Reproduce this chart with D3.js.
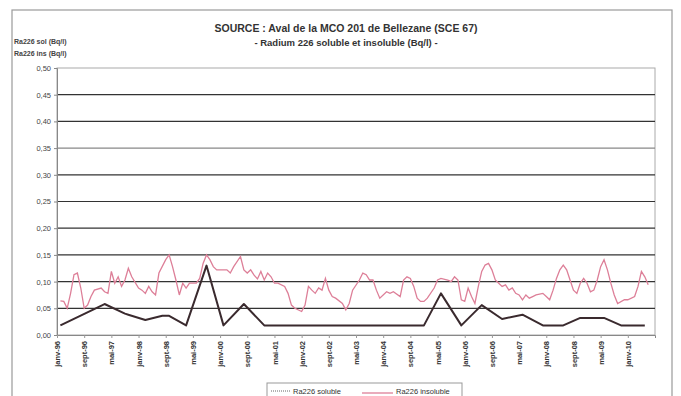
<!DOCTYPE html>
<html>
<head>
<meta charset="utf-8">
<script src="https://cdn.jsdelivr.net/npm/d3@7"></script>
<style>
  body { margin: 0; background: #fff; }
  svg { display: block; font-family: "Liberation Sans", Arial, sans-serif; }
</style>
</head>
<body>
<script>
"use strict";

// months counted from janv-96
const tickLabels = ["janv-96", "sept-96", "mai-97", "janv-98", "sept-98", "mai-99", "janv-00", "sept-00",
                    "mai-01", "janv-02", "sept-02", "mai-03", "janv-04", "sept-04", "mai-05", "janv-06",
                    "sept-06", "mai-07", "janv-08", "sept-08", "mai-09", "janv-10"];
const yTicks = [0, 0.05, 0.10, 0.15, 0.20, 0.25, 0.30, 0.35, 0.40, 0.45, 0.50];

const insolMonths = [1, 2, 3, 4, 5, 6, 7, 8, 9, 10, 11, 13, 14, 15, 16, 17, 18, 19, 20, 21, 22, 24, 25, 26, 27, 28,
                     29, 30, 32, 33, 34, 35, 36, 37, 38, 39, 41, 42, 43, 44, 45, 46, 47, 48, 50, 51, 52, 54, 55, 56,
                     57, 58, 59, 60, 61, 62, 63, 64, 65, 67, 68, 69, 70, 72, 73, 74, 75, 76, 77, 78, 79, 80, 81, 82,
                     84, 85, 86, 87, 89, 90, 91, 92, 93, 94, 95, 97, 98, 99, 101, 102, 103, 104, 105, 106, 107, 108,
                     109, 111, 112, 113, 115, 116, 117, 118, 119, 120, 121, 122, 123, 124, 125, 126, 127, 128, 129,
                     130, 131, 132, 133, 134, 135, 136, 137, 138, 139, 140, 141, 143, 144, 145, 146, 147, 148, 149,
                     150, 151, 152, 153, 154, 155, 156, 157, 158, 159, 160, 161, 162, 163, 164, 165, 167, 168, 170,
                     171, 172, 173, 174];
const insolValues = [0.064, 0.063, 0.050, 0.078, 0.113, 0.116, 0.088, 0.050, 0.056, 0.072, 0.084, 0.088, 0.081, 0.078,
                     0.119, 0.097, 0.109, 0.091, 0.103, 0.125, 0.109, 0.088, 0.084, 0.078, 0.091, 0.081, 0.075, 0.116,
                     0.141, 0.150, 0.128, 0.103, 0.075, 0.097, 0.088, 0.097, 0.097, 0.106, 0.134, 0.150, 0.141, 0.128,
                     0.122, 0.122, 0.122, 0.116, 0.128, 0.147, 0.122, 0.116, 0.122, 0.112, 0.105, 0.119, 0.103, 0.116,
                     0.109, 0.097, 0.097, 0.091, 0.078, 0.056, 0.050, 0.044, 0.056, 0.091, 0.084, 0.078, 0.088, 0.084,
                     0.106, 0.084, 0.072, 0.069, 0.059, 0.047, 0.059, 0.084, 0.103, 0.116, 0.113, 0.103, 0.103, 0.084,
                     0.069, 0.081, 0.078, 0.081, 0.072, 0.103, 0.109, 0.106, 0.091, 0.069, 0.063, 0.063, 0.069, 0.088,
                     0.103, 0.106, 0.103, 0.100, 0.109, 0.103, 0.066, 0.063, 0.088, 0.072, 0.059, 0.091, 0.119, 0.131,
                     0.134, 0.122, 0.103, 0.097, 0.091, 0.094, 0.084, 0.088, 0.078, 0.075, 0.066, 0.075, 0.069, 0.072,
                     0.075, 0.078, 0.072, 0.066, 0.084, 0.106, 0.122, 0.131, 0.122, 0.103, 0.084, 0.078, 0.097, 0.106,
                     0.097, 0.081, 0.084, 0.103, 0.128, 0.141, 0.122, 0.097, 0.075, 0.059, 0.066, 0.066, 0.072, 0.091,
                     0.119, 0.109, 0.094];

const solMonths = [1, 14, 20, 21, 26, 31, 33, 38, 44, 49, 55, 61, 108, 113, 119, 125, 131, 137, 143, 149, 154, 161, 166, 173];
const solValues = [0.018, 0.058, 0.040, 0.038, 0.028, 0.036, 0.036, 0.018, 0.130, 0.018, 0.058, 0.018, 0.018, 0.078,
                   0.018, 0.056, 0.030, 0.038, 0.018, 0.018, 0.032, 0.032, 0.018, 0.018];

const WIDTH = 681;
const HEIGHT = 396;
const LEFT = 57, RIGHT = 655, TOP = 68, BOTTOM = 335;

let svg = d3.select("body")
            .append("svg")
            .attr("width", WIDTH)
            .attr("height", HEIGHT);

// outer frame of the scanned sheet
svg.append("rect")
   .attr("x", 12).attr("y", 10)
   .attr("width", 660).attr("height", 400)
   .attr("fill", "none")
   .attr("stroke", "#9a9a9a")
   .attr("stroke-width", 1.2);

let x = d3.scaleLinear()
          .domain([0, 176])
          .range([LEFT, RIGHT]);
let y = d3.scaleLinear()
          .domain([0, 0.5])
          .range([BOTTOM, TOP]);

// plot border
svg.append("rect")
   .attr("x", LEFT).attr("y", TOP)
   .attr("width", RIGHT - LEFT).attr("height", BOTTOM - TOP)
   .attr("fill", "none")
   .attr("stroke", "#aaa");

// horizontal grid
svg.append("g")
   .selectAll("line")
   .data(yTicks.filter(d => d > 0 && d < 0.5))
   .join("line")
   .attr("x1", LEFT).attr("x2", RIGHT)
   .attr("y1", d => y(d)).attr("y2", d => y(d))
   .attr("stroke", d => d === 0.35 ? "#888" : "#333")
   .attr("stroke-width", 1.2);

// y axis
let yAxis = svg.append("g")
               .attr("transform", "translate(" + LEFT + ",0)")
               .call(d3.axisLeft(y)
                       .tickValues(yTicks)
                       .tickSize(3)
                       .tickFormat(d => d3.format(".2f")(d).replace(".", ",")));
yAxis.select(".domain").attr("stroke", "#888");
yAxis.selectAll(".tick line").attr("stroke", "#888");
yAxis.selectAll("text")
     .attr("font-size", 7.5)
     .attr("fill", "#444")
     .attr("x", -6);

// x axis
let xAxis = svg.append("g")
               .attr("transform", "translate(0," + BOTTOM + ")")
               .call(d3.axisBottom(x)
                       .tickValues(tickLabels.map((d, i) => i * 8))
                       .tickSize(3)
                       .tickFormat((d, i) => tickLabels[i]));
xAxis.select(".domain").attr("stroke", "#888");
xAxis.selectAll(".tick line").attr("stroke", "#999");
xAxis.selectAll("text")
     .attr("font-size", 7.5)
     .attr("font-weight", "bold")
     .attr("fill", "#333")
     .attr("text-anchor", "end")
     .attr("transform", "rotate(-90)")
     .attr("x", -6)
     .attr("y", 0)
     .attr("dy", "0.35em");

let line = d3.line()
             .x(d => x(d[0]))
             .y(d => y(d[1]));

svg.append("path")
   .datum(insolMonths.map((m, i) => [m, insolValues[i]]))
   .attr("fill", "none")
   .attr("stroke", "#dd7f98")
   .attr("stroke-width", 1.3)
   .attr("d", line);

svg.append("path")
   .datum(solMonths.map((m, i) => [m, solValues[i]]))
   .attr("fill", "none")
   .attr("stroke", "#3a2a2e")
   .attr("stroke-width", 2)
   .attr("stroke-linejoin", "round")
   .attr("d", line);

// titles
svg.append("text")
   .attr("x", 346).attr("y", 32)
   .attr("text-anchor", "middle")
   .attr("font-size", 10.5)
   .attr("font-weight", "bold")
   .attr("fill", "#333")
   .text("SOURCE : Aval de la MCO 201 de Bellezane (SCE 67)");
svg.append("text")
   .attr("x", 346).attr("y", 46)
   .attr("text-anchor", "middle")
   .attr("font-size", 9.5)
   .attr("font-weight", "bold")
   .attr("fill", "#333")
   .text("- Radium 226 soluble et insoluble (Bq/l) -");

svg.append("text")
   .attr("x", 14).attr("y", 44)
   .attr("font-size", 7)
   .attr("font-weight", "bold")
   .attr("fill", "#444")
   .text("Ra226 sol (Bq/l)");
svg.append("text")
   .attr("x", 14).attr("y", 56)
   .attr("font-size", 7)
   .attr("font-weight", "bold")
   .attr("fill", "#444")
   .text("Ra226 ins (Bq/l)");

// legend
let legend = svg.append("g");
legend.append("rect")
      .attr("x", 267).attr("y", 383)
      .attr("width", 195).attr("height", 20)
      .attr("fill", "#fff")
      .attr("stroke", "#999");
legend.append("line")
      .attr("x1", 271).attr("x2", 290)
      .attr("y1", 391).attr("y2", 391)
      .attr("stroke", "#666")
      .attr("stroke-dasharray", "1,1");
legend.append("text")
      .attr("x", 293).attr("y", 394)
      .attr("font-size", 7.5)
      .attr("fill", "#333")
      .text("Ra226 soluble");
legend.append("line")
      .attr("x1", 362).attr("x2", 393)
      .attr("y1", 393).attr("y2", 393)
      .attr("stroke", "#dd7f98")
      .attr("stroke-width", 1.3);
legend.append("text")
      .attr("x", 396).attr("y", 394)
      .attr("font-size", 7.5)
      .attr("fill", "#333")
      .text("Ra226 insoluble");
</script>
</body>
</html>
